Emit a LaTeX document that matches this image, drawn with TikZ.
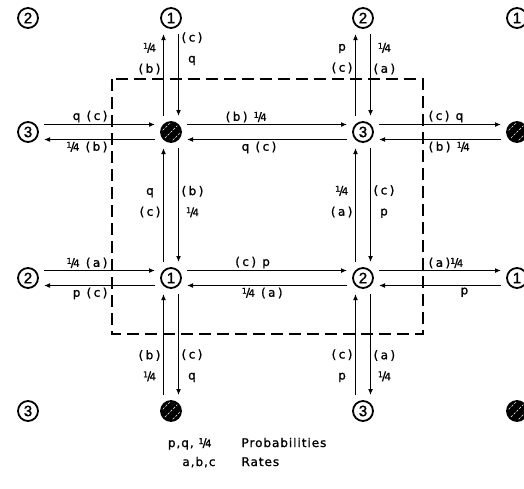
\documentclass[tikz,border=0pt]{standalone}
\usepackage{fontspec}
\setmainfont{DejaVu Sans}[LetterSpace=8, FakeBold=1.2]
\newfontfamily\lblfont{DejaVu Sans}[LetterSpace=20, FakeBold=1.2]
\newfontfamily\numfont{Liberation Sans}[FakeBold=1.5]
\newcommand\qtr{\raisebox{3pt}{\fontsize{8}{8}\selectfont 1}\kern-1pt/\kern-1.5pt{\fontsize{10}{10}\selectfont 4}}
\usetikzlibrary{arrows.meta}

\begin{document}
\begin{tikzpicture}[
  x=1pt, y=1pt,
  st/.style={circle, draw, line width=1.8pt, minimum size=20pt,
             inner sep=0pt, font=\numfont\fontsize{15}{15}\selectfont},
  hst/.style={st, fill=black, path picture={
      \foreach \d/\e in {-5/5,0/0,5/-5}
        \draw[white, line width=0.6pt, dash pattern=on 2.5pt off 1.5pt]
          ([xshift=\d pt, yshift=\e pt]path picture bounding box.center)
          +(-9pt,-9pt) -- +(9pt,9pt);}},
  arr/.style={-{Latex[length=6pt,width=5pt]}, line width=1.2pt},
  lbl/.style={font=\lblfont\fontsize{12}{21}\selectfont, inner sep=1.5pt},
  vlbl/.style={lbl, align=center, inner sep=2.5pt},
  dashbox/.style={line width=1.5pt, dash pattern=on 12pt off 6pt}
]
\useasboundingbox (0,0) rectangle (524,-488);

\draw[dashbox] (112,-79) rectangle (423,-334);

\node[st]  (a0) at (28,-18)   {2};
\node[st]  (a1) at (171,-18)  {1};
\node[st]  (a2) at (363,-18)  {2};
\node[st]  (a3) at (517,-18)  {1};
\node[st]  (b0) at (28,-132)  {3};
\node[hst] (b1) at (171,-132) {};
\node[st]  (b2) at (363,-132) {3};
\node[hst] (b3) at (517,-132) {};
\node[st]  (c0) at (28,-278)  {2};
\node[st]  (c1) at (171,-278) {1};
\node[st]  (c2) at (363,-278) {2};
\node[st]  (c3) at (517,-278) {1};
\node[st]  (d0) at (28,-411)  {3};
\node[hst] (d1) at (171,-411) {};
\node[st]  (d2) at (363,-411) {3};
\node[hst] (d3) at (517,-411) {};

% row with the shaded states
\draw[arr] ([shift={(16,7.5)}]b0.center) -- node[lbl, pos=.59, above left] {q (c)} ([shift={(-16,7.5)}]b1.center);
\draw[arr] ([shift={(-16,-7.5)}]b1.center) -- node[lbl, pos=.41, below left] {\qtr\ (b)} ([shift={(16,-7.5)}]b0.center);
\draw[arr] ([shift={(16,7.5)}]b1.center) -- node[lbl, pos=.37, above] {(b) \qtr} ([shift={(-16,7.5)}]b2.center);
\draw[arr] ([shift={(-16,-7.5)}]b2.center) -- node[lbl, pos=.55, below] {q (c)} ([shift={(16,-7.5)}]b1.center);
\draw[arr] ([shift={(16,7.5)}]b2.center) -- node[lbl, pos=.39, above right] {(c) q} ([shift={(-16,7.5)}]b3.center);
\draw[arr] ([shift={(-16,-7.5)}]b3.center) -- node[lbl, pos=.61, below right] {(b) \qtr} ([shift={(16,-7.5)}]b2.center);

% lower row
\draw[arr] ([shift={(16,7.5)}]c0.center) -- node[lbl, pos=.59, above left] {\qtr\ (a)} ([shift={(-16,7.5)}]c1.center);
\draw[arr] ([shift={(-16,-7.5)}]c1.center) -- node[lbl, pos=.41, below left] {p (c)} ([shift={(16,-7.5)}]c0.center);
\draw[arr] ([shift={(16,7.5)}]c1.center) -- node[lbl, pos=.41, above] {(c) p} ([shift={(-16,7.5)}]c2.center);
\draw[arr] ([shift={(-16,-7.5)}]c2.center) -- node[lbl, pos=.53, below] {\qtr\ (a)} ([shift={(16,-7.5)}]c1.center);
\draw[arr] ([shift={(16,7.5)}]c2.center) -- node[lbl, pos=.39, above right] {(a)\qtr} ([shift={(-16,7.5)}]c3.center);
\draw[arr] ([shift={(-16,-7.5)}]c3.center) -- node[lbl, pos=.30, below] {p} ([shift={(16,-7.5)}]c2.center);

% left column
\draw[arr] ([shift={(-7.5,16)}]b1.center) -- node[vlbl, pos=.70, left] {\qtr\\(b)} ([shift={(-7.5,-16)}]a1.center);
\draw[arr] ([shift={(7.5,-16)}]a1.center) -- node[vlbl, pos=.18, right] {(c)\\q} ([shift={(7.5,16)}]b1.center);
\draw[arr] ([shift={(-7.5,16)}]c1.center) -- node[vlbl, pos=.52, left] {q\\(c)} ([shift={(-7.5,-16)}]b1.center);
\draw[arr] ([shift={(7.5,-16)}]b1.center) -- node[vlbl, pos=.47, right] {(b)\\\qtr} ([shift={(7.5,16)}]c1.center);
\draw[arr] ([shift={(-7.5,16)}]d1.center) -- node[vlbl, pos=.29, left] {(b)\\\qtr} ([shift={(-7.5,-16)}]c1.center);
\draw[arr] ([shift={(7.5,-16)}]c1.center) -- node[vlbl, pos=.71, right] {(c)\\q} ([shift={(7.5,16)}]d1.center);

% right column
\draw[arr] ([shift={(-7.5,16)}]b2.center) -- node[vlbl, pos=.70, left] {p\\(c)} ([shift={(-7.5,-16)}]a2.center);
\draw[arr] ([shift={(7.5,-16)}]a2.center) -- node[vlbl, pos=.30, right] {\qtr\\(a)} ([shift={(7.5,16)}]b2.center);
\draw[arr] ([shift={(-7.5,16)}]c2.center) -- node[vlbl, pos=.53, left] {\qtr\\(a)} ([shift={(-7.5,-16)}]b2.center);
\draw[arr] ([shift={(7.5,-16)}]b2.center) -- node[vlbl, pos=.47, right] {(c)\\p} ([shift={(7.5,16)}]c2.center);
\draw[arr] ([shift={(-7.5,16)}]d2.center) -- node[vlbl, pos=.29, left] {(c)\\p} ([shift={(-7.5,-16)}]c2.center);
\draw[arr] ([shift={(7.5,-16)}]c2.center) -- node[vlbl, pos=.71, right] {(a)\\\qtr} ([shift={(7.5,16)}]d2.center);

\node[anchor=base east, font=\fontsize{12}{14}\selectfont] (pq)   at (215,-447) {p,q, \qtr};
\node[anchor=base west, font=\fontsize{12}{14}\selectfont] (prob) at (238,-447) {Probabilities};
\node[anchor=base east, font=\fontsize{12}{14}\selectfont] (abc)  at (219,-466) {a,b,c};
\node[anchor=base west, font=\fontsize{12}{14}\selectfont] (rate) at (238,-466) {Rates};
\end{tikzpicture}
\end{document}
